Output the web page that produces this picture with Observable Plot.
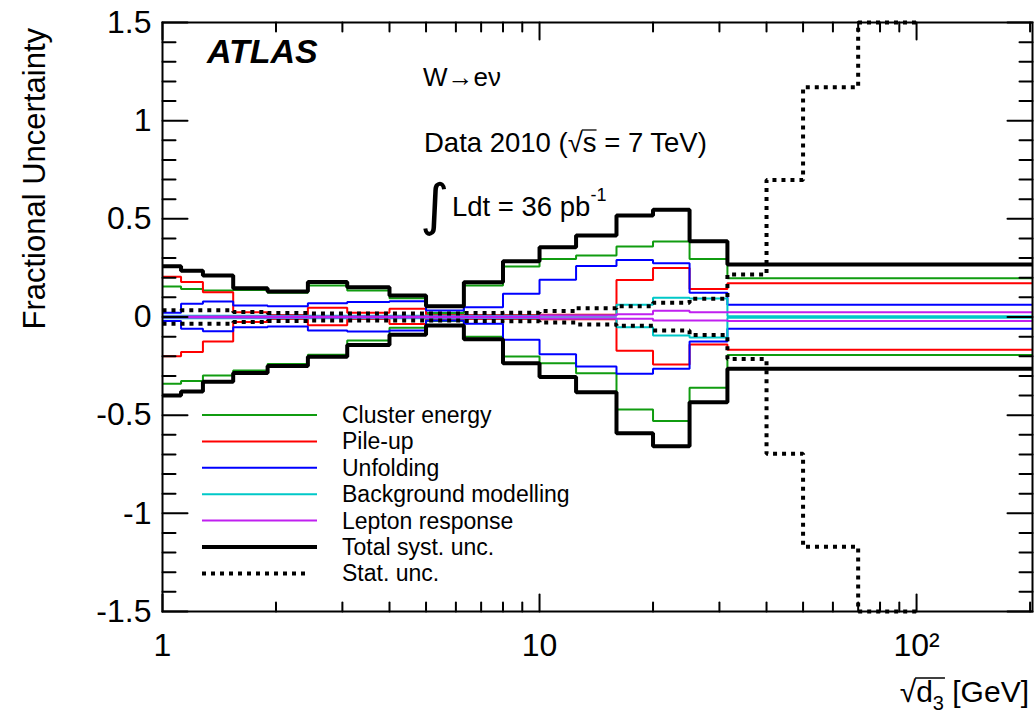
<!DOCTYPE html>
<html><head><meta charset="utf-8">
<script src="https://cdn.jsdelivr.net/npm/d3@7"></script>
<script src="https://cdn.jsdelivr.net/npm/@observablehq/plot@0.6"></script>
<style>
body{margin:0;background:#fff;}
#chart{position:relative;width:1034px;height:719px;}
</style></head><body><div id="chart"></div>
<script>
// ---- data ----
const binEdges  = [1, 1.12, 1.28, 1.54, 1.9, 2.43, 3.09, 4, 5, 6.3, 8, 10, 12.5, 16, 20, 25, 31.5, 203];
const statEdges = [1, 1.12, 1.28, 1.54, 1.9, 2.43, 3.09, 4, 5, 6.3, 8, 10, 12.5, 16, 20, 25, 31.5, 40, 50, 70, 100];
const clusterUp   = [0.155, 0.143, 0.135, 0.138, 0.123, 0.16, 0.135, 0.096, 0.02, 0.16, 0.257, 0.296, 0.313, 0.359, 0.384, 0.296, 0.197];
const clusterDown = [-0.34, -0.326, -0.298, -0.272, -0.24, -0.192, -0.12, -0.055, -0.02, -0.10, -0.201, -0.235, -0.286, -0.471, -0.53, -0.36, -0.194];
const pileupUp    = [0.205, 0.178, 0.126, 0.024, 0.01, 0.047, 0.022, 0.042, 0.01, 0.01, 0.01, 0.012, 0.012, 0.189, 0.25, 0.143, 0.172];
const pileupDown  = [-0.2, -0.178, -0.125, -0.026, -0.01, -0.042, -0.01, -0.036, -0.01, -0.01, -0.01, -0.012, -0.012, -0.172, -0.242, -0.14, -0.167];
const unfoldUp    = [0.022, 0.067, 0.079, 0.059, 0.055, 0.07, 0.077, 0.08, 0.033, 0.05, 0.118, 0.19, 0.26, 0.29, 0.274, 0.123, 0.063];
const unfoldDown  = [-0.02, -0.06, -0.072, -0.052, -0.048, -0.069, -0.074, -0.069, -0.018, -0.035, -0.116, -0.19, -0.252, -0.289, -0.264, -0.125, -0.06];
const bgUp        = [0.006, 0.006, 0.006, 0.006, 0.006, 0.006, 0.006, 0.006, 0.006, 0.006, 0.006, 0.006, 0.006, 0.062, 0.098, 0.094, 0.004];
const bgDown      = [-0.006, -0.006, -0.006, -0.006, -0.006, -0.006, -0.006, -0.006, -0.006, -0.006, -0.006, -0.006, -0.006, -0.052, -0.094, -0.104, -0.004];
const leptonUp    = [0.003, 0.003, 0.003, 0.003, 0.003, 0.003, 0.003, 0.003, 0.003, 0.003, 0.003, 0.008, 0.008, 0.014, 0.032, 0.024, 0.024];
const leptonDown  = [-0.003, -0.003, -0.003, -0.003, -0.003, -0.003, -0.003, -0.003, -0.003, -0.003, -0.003, -0.008, -0.008, -0.009, -0.018, -0.018, -0.02];
const totalUp     = [0.258, 0.235, 0.211, 0.147, 0.13, 0.178, 0.152, 0.11, 0.055, 0.177, 0.284, 0.355, 0.415, 0.517, 0.546, 0.386, 0.267];
const totalDown   = [-0.40, -0.38, -0.33, -0.285, -0.25, -0.203, -0.142, -0.09, -0.043, -0.113, -0.235, -0.306, -0.383, -0.592, -0.658, -0.434, -0.264];
const statUp      = [0.034, 0.035, 0.035, 0.025, 0.02, 0.018, 0.018, 0.018, 0.018, 0.02, 0.022, 0.03, 0.045, 0.055, 0.073, 0.093, 0.216, 0.698, 1.17, 1.5];
const statDown    = [-0.035, -0.035, -0.035, -0.026, -0.02, -0.018, -0.018, -0.018, -0.018, -0.02, -0.022, -0.028, -0.038, -0.045, -0.069, -0.092, -0.214, -0.696, -1.17, -1.5];

const seriesNames = ["Cluster energy", "Pile-up", "Unfolding", "Background modelling", "Lepton response", "Total syst. unc.", "Stat. unc."];
const seriesColors = ["#109c10", "#ff0000", "#0000ff", "#00c8c8", "#c020f0", "#000000", "#000000"];

const yMajor = [-1.5, -1, -0.5, 0, 0.5, 1, 1.5];
const yMinor = [-1.4,-1.3,-1.2,-1.1,-0.9,-0.8,-0.7,-0.6,-0.4,-0.3,-0.2,-0.1,0.1,0.2,0.3,0.4,0.6,0.7,0.8,0.9,1.1,1.2,1.3,1.4];
const xMajor = [1, 10, 100];
const xMinor = [2,3,4,5,6,7,8,9,20,30,40,50,60,70,80,90,200];
const xTickLabels = {1: "1", 10: "10", 100: "10\u00B2"};

const seriesDefs = [
  {edges: binEdges, up: clusterUp, down: clusterDown, w: 2, dash: null},
  {edges: binEdges, up: pileupUp, down: pileupDown, w: 2, dash: null},
  {edges: binEdges, up: unfoldUp, down: unfoldDown, w: 2, dash: null},
  {edges: binEdges, up: bgUp, down: bgDown, w: 2, dash: null},
  {edges: binEdges, up: leptonUp, down: leptonDown, w: 2, dash: null},
  {edges: binEdges, up: totalUp, down: totalDown, w: 4, dash: null},
  {edges: statEdges, up: statUp, down: statDown, w: 4, dash: "4,5"}
].map((d, i) => ({...d, name: seriesNames[i], color: seriesColors[i]}));

function rowsOf(s) {
  const rows = [];
  for (const [dir, vals] of [["up", s.up], ["down", s.down]]) {
    s.edges.forEach((e, i) => rows.push({dir, x: e, y: vals[Math.min(i, vals.length - 1)]}));
  }
  return rows;
}

// inward ROOT-style ticks, as short segments in data units drawn through Plot's scales
const W = 1034, H = 719, ML = 162, MR = 2, MT = 22, MB = 108;
const PW = W - ML - MR, PH = H - MT - MB;
const X_DOMAIN = [1, 203], Y_DOMAIN = [-1.5, 1.5];
const lx = Math.log10(X_DOMAIN[1] / X_DOMAIN[0]);
const xOff = (from, px) => from * Math.pow(10, lx * px / PW);
const yOff = (from, px) => from + (Y_DOMAIN[1] - Y_DOMAIN[0]) * px / PH;
const tickRows = [];
let tid = 0;
for (const [ticks, len] of [[yMajor, 25], [yMinor, 13]]) for (const t of ticks) {
  tickRows.push({id: tid, x: X_DOMAIN[0], y: t}, {id: tid++, x: xOff(X_DOMAIN[0], len), y: t});
  tickRows.push({id: tid, x: X_DOMAIN[1], y: t}, {id: tid++, x: xOff(X_DOMAIN[1], -len), y: t});
}
for (const [ticks, len] of [[xMajor, 17], [xMinor, 9]]) for (const t of ticks) {
  tickRows.push({id: tid, x: t, y: Y_DOMAIN[0]}, {id: tid++, x: t, y: yOff(Y_DOMAIN[0], len)});
  tickRows.push({id: tid, x: t, y: Y_DOMAIN[1]}, {id: tid++, x: t, y: yOff(Y_DOMAIN[1], -len)});
}

const FONT = "'Liberation Sans', Arial, Helvetica, sans-serif";

const marks = [];
for (const s of seriesDefs) {
  marks.push(Plot.line(rowsOf(s), {x: "x", y: "y", z: "dir", curve: "step-after",
    stroke: s.color, strokeWidth: s.w, strokeDasharray: s.dash || undefined, strokeLinejoin: "miter", strokeLinecap: "butt"}));
}
marks.push(
  Plot.line(tickRows, {x: "x", y: "y", z: "id", stroke: "black", strokeWidth: 2, curve: "linear"}),
  Plot.axisY({ticks: yMajor, anchor: "left", tickSize: 0, tickPadding: 11, tickFormat: d => String(d), fontSize: 32, label: null, color: "black"}),
  Plot.axisX({ticks: xMajor, anchor: "bottom", tickSize: 0, tickPadding: 22, tickFormat: d => xTickLabels[d], fontSize: 32, label: null, color: "black"}),
  Plot.frame({stroke: "black", strokeWidth: 2})
);

const plot = Plot.plot({
  width: W, height: H,
  marginLeft: ML, marginRight: MR, marginTop: MT, marginBottom: MB,
  x: {type: "log", domain: X_DOMAIN, axis: null},
  y: {domain: Y_DOMAIN, axis: null},
  style: {fontFamily: FONT, background: "white", color: "black", overflow: "visible"},
  marks
});
document.getElementById("chart").appendChild(plot);

const svg = d3.select(plot);
const g = svg.append("g").attr("font-family", FONT).attr("fill", "black").attr("text-anchor", "start");

// axis titles
g.append("text").attr("transform", "translate(45,28) rotate(-90)").attr("text-anchor", "end")
  .attr("font-size", 31).text("Fractional Uncertainty");

const xt = g.append("text").attr("x", 1029).attr("y", 702).attr("text-anchor", "end").attr("font-size", 30);
xt.append("tspan").text("\u221A");
xt.append("tspan").text("d");
xt.append("tspan").attr("font-size", 20).attr("dy", 8).text("3");
xt.append("tspan").attr("dy", -8).text(" [GeV]");
{
  const n = xt.node();
  const e0 = n.getExtentOfChar(0), e2 = n.getExtentOfChar(2);
  g.append("line").attr("x1", e0.x + e0.width - 1).attr("x2", e2.x + e2.width + 1)
    .attr("y1", e0.y + 3).attr("y2", e0.y + 3).attr("stroke", "black").attr("stroke-width", 1.5);
}

// annotations
g.append("text").attr("x", 207).attr("y", 63).attr("font-size", 34).attr("font-weight", "bold")
  .attr("font-style", "italic").text("ATLAS");
g.append("text").attr("x", 423).attr("y", 86).attr("font-size", 26).text("W\u2192e\u03BD");
const dt = g.append("text").attr("x", 424).attr("y", 152).attr("font-size", 27.5);
dt.append("tspan").text("Data 2010 (\u221A");
dt.append("tspan").text("s");
dt.append("tspan").text(" = 7 TeV)");
{
  const n = dt.node();
  const sIdx = "Data 2010 (".length;
  const er = n.getExtentOfChar(sIdx), es = n.getExtentOfChar(sIdx + 1);
  g.append("line").attr("x1", er.x + er.width - 1).attr("x2", es.x + es.width)
    .attr("y1", er.y + 3).attr("y2", er.y + 3).attr("stroke", "black").attr("stroke-width", 1.3);
}
g.append("text").attr("x", 420).attr("y", 224).attr("font-size", 56).attr("font-family", "'DejaVu Sans', sans-serif").text("\u222B");
const lt = g.append("text").attr("x", 452).attr("y", 216).attr("font-size", 27.5);
lt.append("tspan").text("Ldt = 36 pb");
lt.append("tspan").attr("font-size", 18).attr("dy", -15).text("-1");

// legend
const lg = svg.append("g").attr("font-family", FONT).attr("text-anchor", "start");
seriesDefs.forEach((s, i) => {
  const y = 415 + i * 26.4;
  lg.append("line").attr("x1", 202).attr("x2", s.dash ? 310 : 317).attr("y1", y).attr("y2", y)
    .attr("stroke", s.color).attr("stroke-width", s.w).attr("stroke-dasharray", s.dash);
  lg.append("text").attr("x", 342).attr("y", y + 8).attr("font-size", 23).attr("fill", "black").text(s.name);
});
</script></body></html>
